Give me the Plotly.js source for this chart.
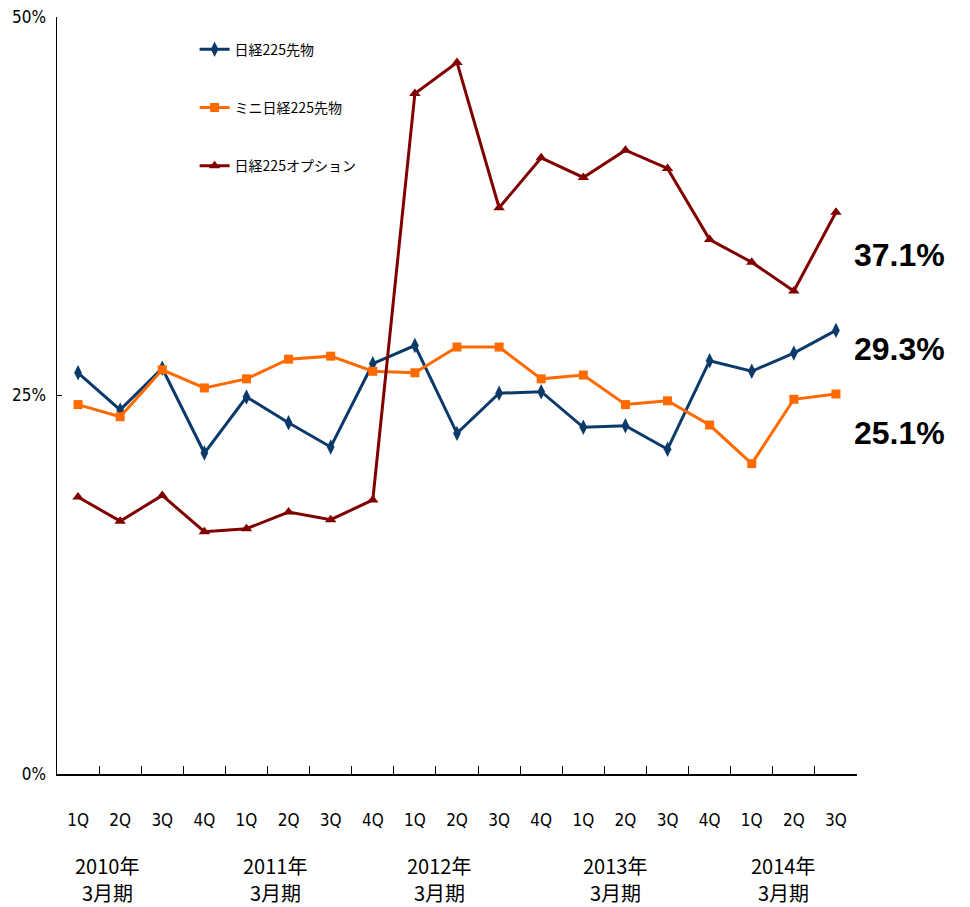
<!DOCTYPE html>
<html>
<head>
<meta charset="utf-8">
<script src="https://cdn.plot.ly/plotly-3.0.1.min.js"></script>
<style>html,body{margin:0;padding:0;background:#fff;}#chart{width:970px;height:907px;}</style>
</head>
<body>
<div id="chart"></div>
<script>
const categories = ['2010-1Q','2010-2Q','2010-3Q','2010-4Q','2011-1Q','2011-2Q','2011-3Q','2011-4Q','2012-1Q','2012-2Q','2012-3Q','2012-4Q','2013-1Q','2013-2Q','2013-3Q','2013-4Q','2014-1Q','2014-2Q','2014-3Q'];
const quarterLabels = ['1Q','2Q','3Q','4Q','1Q','2Q','3Q','4Q','1Q','2Q','3Q','4Q','1Q','2Q','3Q','4Q','1Q','2Q','3Q'];
const yearLabels = ['2010年','2011年','2012年','2013年','2014年'];
const periodLabel = '3月期';
const seriesNames = ['日経225先物','ミニ日経225先物','日経225オプション'];
const nikkeiFutures = [26.5,24.05,26.8,21.2,24.9,23.2,21.6,27.1,28.3,22.5,25.15,25.25,22.9,23.0,21.45,27.3,26.6,27.8,29.3];
const miniFutures = [24.4,23.6,26.7,25.5,26.1,27.4,27.6,26.6,26.5,28.2,28.2,26.1,26.35,24.4,24.65,23.05,20.5,24.75,25.1];
const options225 = [18.3,16.7,18.4,16.0,16.2,17.3,16.8,18.1,44.95,47.0,37.4,40.7,39.4,41.2,40.0,35.3,33.8,31.9,37.1];
const endLabels = ['37.1%','29.3%','25.1%'];
const yTickVals = [0,25,50];
const yTickText = ['0%','25%','50%'];

const colors = ['#0a3a6a','#ff6a00','#800000'];
const symbols = ['diamond-tall','square','triangle-up'];
const sizes = [11,9,10];
const allSeries = [nikkeiFutures, miniFutures, options225];

const traces = allSeries.map((vals,i)=>({
  type:'scatter', mode:'lines+markers', name:seriesNames[i], legendgroup:'g'+i,
  x:categories, y:vals,
  line:{color:colors[i], width:3},
  marker:{symbol:symbols[i], size:sizes[i], color:colors[i]}
}));

const narrow = '"Liberation Sans Narrow", "DejaVu Sans Condensed", sans-serif';
const jp = '"Noto Sans CJK JP", sans-serif';

const yearX = [0.0625,0.2725,0.4775,0.6975,0.9075];
const annotations = [];
yearLabels.forEach((t,i)=>{
  annotations.push({xref:'paper', yref:'paper', x:yearX[i], y:-0.121, xanchor:'center', yanchor:'middle',
    text:t, showarrow:false, font:{family:jp, size:20, color:'#000'}});
  annotations.push({xref:'paper', yref:'paper', x:yearX[i], y:-0.157, xanchor:'center', yanchor:'middle',
    text:periodLabel, showarrow:false, font:{family:jp, size:20, color:'#000'}});
});
const endY = [34.3, 28.1, 22.5];
endLabels.forEach((t,i)=>{
  annotations.push({xref:'paper', yref:'y', x:0.994, y:endY[i], xanchor:'left', yanchor:'middle',
    text:'<b>'+t+'</b>', showarrow:false, font:{family:'"Liberation Sans", Arial, sans-serif', size:32, color:'#000'}});
});

const layout = {
  width:970, height:907,
  margin:{l:57, r:113, t:17, b:133},
  paper_bgcolor:'#fff', plot_bgcolor:'#fff',
  showlegend:true,
  legend:{x:0.172, y:0.978, xanchor:'left', yanchor:'top', bgcolor:'rgba(0,0,0,0)',
    font:{family:jp, size:14, color:'#000'}, tracegroupgap:37},
  xaxis:{type:'category', range:[-0.5,18.5], tickvals:categories, ticktext:quarterLabels,
    tickson:'boundaries', ticks:'inside', ticklen:8, tickcolor:'#000', tickwidth:1,
    showline:true, linecolor:'#000', linewidth:1.5, showgrid:false, zeroline:false,
    ticklabelstandoff:30, tickfont:{family:narrow, size:17, color:'#000'}},
  yaxis:{range:[0,50], tickvals:yTickVals, ticktext:yTickText, ticks:'inside', ticklen:5,
    tickcolor:'#000', showline:true, linecolor:'#000', linewidth:1.5, showgrid:false, zeroline:false,
    tickfont:{family:narrow, size:17, color:'#000'}, ticklabelstandoff:6},
  annotations:annotations
};

Plotly.newPlot('chart', traces, layout, {displayModeBar:false, staticPlot:true});
</script>
</body>
</html>
